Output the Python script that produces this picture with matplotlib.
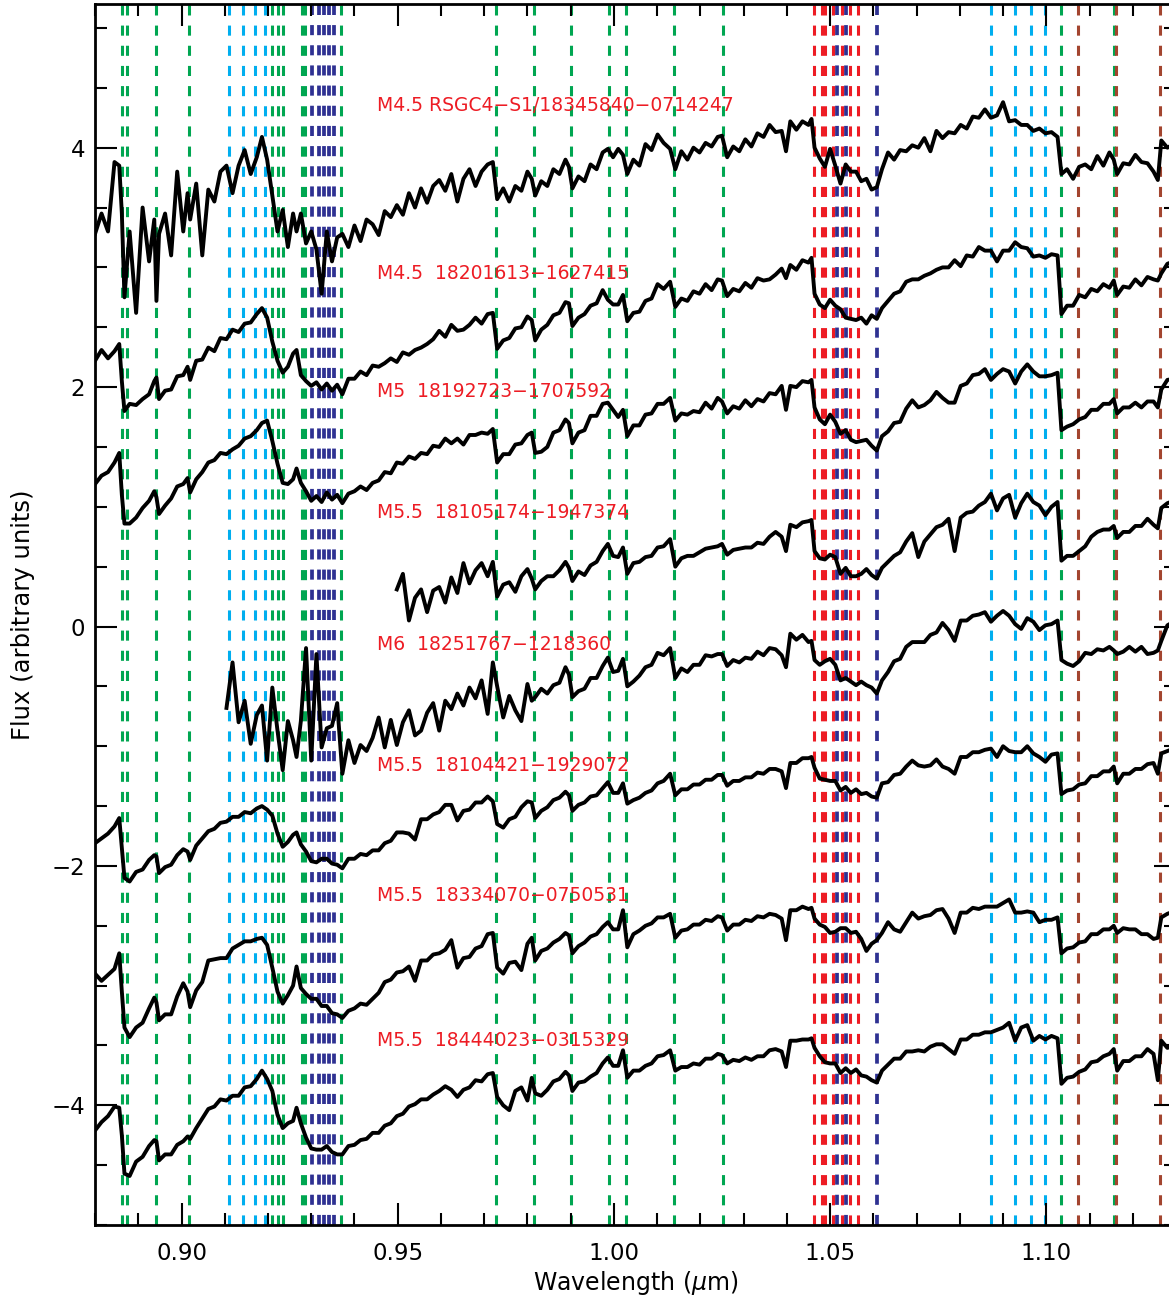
import numpy as np
import matplotlib
matplotlib.use("Agg")
import matplotlib.pyplot as plt
from matplotlib.ticker import MultipleLocator, FormatStrFormatter

# ---------------------------------------------------------------
# Common wavelength sampling (micron) for all eight spectra
# ---------------------------------------------------------------
WAVE = [0.8800, 0.8815, 0.8830, 0.8845, 0.8856, 0.8862, 0.8868, 0.8880, 0.8895, 0.8910,
        0.8925, 0.8937, 0.8942, 0.8948, 0.8962, 0.8976, 0.8990, 0.9004, 0.9014, 0.9020,
        0.9034, 0.9048, 0.9062, 0.9076, 0.9090, 0.9104, 0.9118, 0.9132, 0.9146, 0.9160,
        0.9174, 0.9186, 0.9198, 0.9210, 0.9222, 0.9234, 0.9246, 0.9258, 0.9266, 0.9276,
        0.9288, 0.9300, 0.9312, 0.9324, 0.9336, 0.9348, 0.9360, 0.9372, 0.9386, 0.9400,
        0.9414, 0.9428, 0.9442, 0.9456, 0.9470, 0.9484, 0.9498, 0.9512, 0.9526, 0.9540,
        0.9554, 0.9568, 0.9582, 0.9596, 0.9610, 0.9624, 0.9638, 0.9652, 0.9666, 0.9680,
        0.9694, 0.9708, 0.9720, 0.9730, 0.9744, 0.9758, 0.9772, 0.9786, 0.9800, 0.9810,
        0.9818, 0.9832, 0.9846, 0.9860, 0.9874, 0.9888, 0.9896, 0.9904, 0.9918, 0.9932,
        0.9946, 0.9960, 0.9974, 0.9986, 0.9998, 1.0010, 1.0021, 1.0031, 1.0045, 1.0059,
        1.0073, 1.0087, 1.0101, 1.0115, 1.0130, 1.0142, 1.0156, 1.0170, 1.0184, 1.0198,
        1.0212, 1.0226, 1.0240, 1.0250, 1.0262, 1.0276, 1.0290, 1.0304, 1.0318, 1.0332,
        1.0346, 1.0360, 1.0374, 1.0388, 1.0398, 1.0408, 1.0422, 1.0436, 1.0450, 1.0457,
        1.0464, 1.0476, 1.0488, 1.0500, 1.0512, 1.0524, 1.0536, 1.0548, 1.0560, 1.0572,
        1.0584, 1.0596, 1.0608, 1.0620, 1.0634, 1.0648, 1.0662, 1.0676, 1.0690, 1.0704,
        1.0718, 1.0732, 1.0746, 1.0760, 1.0774, 1.0788, 1.0802, 1.0816, 1.0830, 1.0844,
        1.0858, 1.0872, 1.0886, 1.0900, 1.0914, 1.0928, 1.0942, 1.0956, 1.0970, 1.0984,
        1.0998, 1.1012, 1.1026, 1.1035, 1.1048, 1.1062, 1.1076, 1.1090, 1.1104, 1.1118,
        1.1132, 1.1146, 1.1156, 1.1164, 1.1178, 1.1192, 1.1206, 1.1220, 1.1234, 1.1248,
        1.1258, 1.1266, 1.1280, 1.1295]

# offset fluxes, top to bottom
FLUX_1 = [3.28, 3.45, 3.30, 3.88, 3.85, 3.45, 2.75, 3.30, 2.62, 3.50,
          3.05, 3.40, 2.72, 3.28, 3.45, 3.10, 3.80, 3.30, 3.62, 3.40,
          3.70, 3.10, 3.65, 3.55, 3.80, 3.85, 3.62, 3.85, 3.98, 3.78,
          3.92, 4.09, 3.90, 3.60, 3.30, 3.48, 3.17, 3.45, 3.30, 3.45,
          3.20, 3.30, 3.15, 2.78, 3.30, 3.05, 3.25, 3.28, 3.17, 3.35,
          3.22, 3.40, 3.36, 3.27, 3.47, 3.42, 3.52, 3.44, 3.62, 3.50,
          3.66, 3.54, 3.68, 3.73, 3.64, 3.78, 3.55, 3.74, 3.82, 3.68,
          3.80, 3.86, 3.88, 3.57, 3.66, 3.55, 3.68, 3.64, 3.80, 3.74,
          3.60, 3.72, 3.68, 3.82, 3.78, 3.90, 3.84, 3.66, 3.76, 3.72,
          3.86, 3.82, 3.96, 3.99, 3.92, 3.99, 3.94, 3.78, 3.90, 3.85,
          4.03, 3.98, 4.11, 4.04, 3.99, 3.82, 3.97, 3.90, 4.00, 3.96,
          4.04, 4.01, 4.09, 4.10, 3.92, 4.01, 3.97, 4.07, 4.01, 4.12,
          4.09, 4.19, 4.13, 4.14, 3.97, 4.22, 4.15, 4.22, 4.19, 4.24,
          4.00, 3.91, 3.84, 3.99, 3.85, 3.70, 3.86, 3.80, 3.80, 3.72,
          3.74, 3.65, 3.67, 3.82, 3.96, 3.90, 3.98, 3.97, 4.02, 4.00,
          4.08, 3.97, 4.14, 4.08, 4.13, 4.12, 4.19, 4.16, 4.26, 4.25,
          4.32, 4.25, 4.27, 4.38, 4.22, 4.23, 4.19, 4.19, 4.14, 4.16,
          4.12, 4.13, 4.09, 3.78, 3.82, 3.74, 3.84, 3.86, 3.82, 3.93,
          3.85, 3.96, 3.90, 3.78, 3.87, 3.86, 3.94, 3.88, 3.87, 3.80,
          3.73, 4.06, 4.00, 4.03]

FLUX_2 = [2.22, 2.31, 2.24, 2.30, 2.36, 2.05, 1.80, 1.86, 1.85, 1.90,
          1.94, 2.05, 2.08, 1.90, 1.97, 1.98, 2.09, 2.10, 2.17, 2.06,
          2.22, 2.23, 2.33, 2.30, 2.41, 2.40, 2.48, 2.46, 2.53, 2.54,
          2.61, 2.66, 2.58, 2.38, 2.22, 2.12, 2.17, 2.28, 2.31, 2.10,
          2.05, 2.01, 2.04, 1.98, 2.03, 1.97, 2.02, 1.94, 2.07, 2.07,
          2.13, 2.10, 2.18, 2.17, 2.20, 2.24, 2.21, 2.29, 2.27, 2.31,
          2.33, 2.36, 2.40, 2.47, 2.42, 2.52, 2.47, 2.48, 2.52, 2.58,
          2.53, 2.61, 2.62, 2.32, 2.39, 2.41, 2.49, 2.50, 2.59, 2.56,
          2.39, 2.48, 2.52, 2.60, 2.62, 2.71, 2.70, 2.51, 2.58, 2.61,
          2.68, 2.70, 2.81, 2.73, 2.69, 2.69, 2.77, 2.55, 2.62, 2.63,
          2.72, 2.74, 2.86, 2.82, 2.88, 2.67, 2.74, 2.72, 2.80, 2.78,
          2.86, 2.81, 2.90, 2.89, 2.76, 2.82, 2.80, 2.87, 2.83, 2.91,
          2.89, 2.90, 2.94, 2.99, 2.91, 3.02, 2.98, 3.06, 3.04, 3.08,
          2.78, 2.69, 2.66, 2.73, 2.68, 2.65, 2.58, 2.57, 2.56, 2.58,
          2.53, 2.60, 2.57, 2.66, 2.72, 2.78, 2.80, 2.88, 2.90, 2.90,
          2.93, 2.95, 2.98, 3.00, 3.00, 3.06, 3.01, 3.10, 3.09, 3.17,
          3.14, 3.14, 3.05, 3.14, 3.14, 3.21, 3.17, 3.16, 3.09, 3.10,
          3.08, 3.11, 3.10, 2.61, 2.68, 2.68, 2.77, 2.75, 2.82, 2.80,
          2.86, 2.83, 2.89, 2.77, 2.84, 2.83, 2.90, 2.85, 2.92, 2.90,
          2.89, 2.95, 3.03, 3.05]

FLUX_3 = [1.19, 1.26, 1.29, 1.37, 1.45, 1.10, 0.86, 0.86, 0.91, 0.99,
          1.05, 1.13, 1.08, 0.94, 1.01, 1.07, 1.17, 1.19, 1.24, 1.12,
          1.23, 1.29, 1.37, 1.39, 1.45, 1.44, 1.48, 1.51, 1.57, 1.59,
          1.64, 1.70, 1.72, 1.55, 1.36, 1.20, 1.19, 1.23, 1.32, 1.20,
          1.13, 1.05, 1.09, 1.04, 1.12, 1.06, 1.10, 1.03, 1.11, 1.13,
          1.17, 1.14, 1.20, 1.22, 1.29, 1.28, 1.37, 1.36, 1.42, 1.40,
          1.45, 1.44, 1.51, 1.50, 1.57, 1.53, 1.57, 1.52, 1.60, 1.60,
          1.62, 1.61, 1.65, 1.37, 1.44, 1.44, 1.52, 1.53, 1.60, 1.62,
          1.45, 1.46, 1.50, 1.62, 1.64, 1.73, 1.70, 1.53, 1.62, 1.64,
          1.76, 1.76, 1.86, 1.87, 1.81, 1.75, 1.81, 1.59, 1.68, 1.68,
          1.77, 1.78, 1.86, 1.86, 1.91, 1.72, 1.78, 1.77, 1.80, 1.79,
          1.87, 1.82, 1.91, 1.88, 1.78, 1.84, 1.82, 1.89, 1.84, 1.90,
          1.88, 1.95, 1.94, 2.01, 1.81, 2.01, 2.00, 2.05, 2.04, 2.06,
          1.83, 1.73, 1.69, 1.77, 1.71, 1.61, 1.64, 1.56, 1.54, 1.55,
          1.56, 1.51, 1.47, 1.59, 1.63, 1.70, 1.71, 1.82, 1.89, 1.83,
          1.85, 1.89, 1.96, 1.91, 1.87, 1.87, 2.01, 2.03, 2.10, 2.11,
          2.15, 2.06, 2.11, 2.15, 2.13, 2.03, 2.13, 2.19, 2.13, 2.09,
          2.09, 2.10, 2.12, 1.64, 1.67, 1.69, 1.73, 1.75, 1.81, 1.81,
          1.86, 1.86, 1.90, 1.78, 1.83, 1.83, 1.87, 1.83, 1.88, 1.88,
          1.83, 1.98, 2.06, 2.07]

# this spectrum only starts at 0.95 micron
FLUX_4 = [None] * 56 + [
          0.31, 0.44, 0.05, 0.24,
          0.31, 0.12, 0.30, 0.33, 0.20, 0.41, 0.28, 0.53, 0.36, 0.47,
          0.53, 0.42, 0.54, 0.25, 0.35, 0.37, 0.29, 0.42, 0.48, 0.40,
          0.31, 0.38, 0.42, 0.42, 0.47, 0.54, 0.49, 0.38, 0.46, 0.43,
          0.51, 0.54, 0.63, 0.69, 0.59, 0.58, 0.66, 0.44, 0.53, 0.54,
          0.58, 0.59, 0.66, 0.67, 0.73, 0.50, 0.57, 0.59, 0.59, 0.62,
          0.65, 0.66, 0.67, 0.69, 0.60, 0.64, 0.65, 0.66, 0.66, 0.70,
          0.69, 0.75, 0.79, 0.75, 0.63, 0.85, 0.83, 0.87, 0.88, 0.89,
          0.63, 0.57, 0.56, 0.60, 0.58, 0.44, 0.49, 0.42, 0.42, 0.44,
          0.48, 0.43, 0.40, 0.49, 0.54, 0.59, 0.62, 0.71, 0.78, 0.58,
          0.71, 0.77, 0.83, 0.85, 0.90, 0.63, 0.91, 0.95, 0.96, 1.01,
          1.04, 1.11, 0.97, 1.07, 1.10, 0.91, 1.03, 1.11, 1.04, 1.01,
          0.93, 1.00, 1.04, 0.55, 0.59, 0.59, 0.63, 0.67, 0.75, 0.79,
          0.81, 0.81, 0.84, 0.74, 0.79, 0.79, 0.84, 0.84, 0.90, 0.85,
          0.82, 0.99, 1.03, 1.05]

# this spectrum only starts at 0.91 micron
FLUX_5 = [None] * 25 + [
          -0.68, -0.30, -0.80, -0.62, -0.98,
          -0.74, -0.66, -1.12, -0.51, -0.87, -1.20, -0.79, -0.95, -1.09, -0.79,
          -0.18, -1.12, -0.23, -1.01, -0.85, -0.83, -0.64, -1.23, -0.95, -1.14,
          -0.99, -1.04, -0.93, -0.76, -1.01, -0.78, -0.99, -0.80, -0.70, -0.91,
          -0.87, -0.72, -0.64, -0.87, -0.62, -0.69, -0.56, -0.66, -0.51, -0.60,
          -0.45, -0.73, -0.30, -0.50, -0.76, -0.58, -0.70, -0.79, -0.48, -0.62,
          -0.59, -0.52, -0.56, -0.49, -0.47, -0.34, -0.40, -0.59, -0.54, -0.52,
          -0.43, -0.43, -0.33, -0.26, -0.38, -0.37, -0.27, -0.50, -0.46, -0.41,
          -0.34, -0.32, -0.22, -0.24, -0.18, -0.43, -0.35, -0.38, -0.32, -0.32,
          -0.24, -0.25, -0.23, -0.23, -0.33, -0.28, -0.30, -0.26, -0.27, -0.21,
          -0.24, -0.18, -0.19, -0.24, -0.34, -0.06, -0.11, -0.07, -0.13, -0.12,
          -0.28, -0.32, -0.29, -0.27, -0.32, -0.45, -0.43, -0.46, -0.49, -0.46,
          -0.49, -0.51, -0.56, -0.45, -0.38, -0.29, -0.27, -0.17, -0.13, -0.13,
          -0.13, -0.07, -0.05, 0.03, -0.03, -0.12, 0.05, 0.05, 0.09, 0.10,
          0.12, 0.04, 0.09, 0.13, 0.09, 0.02, -0.02, 0.07, 0.04, -0.03,
          0.01, 0.02, 0.05, -0.28, -0.31, -0.33, -0.29, -0.22, -0.23, -0.19,
          -0.20, -0.17, -0.20, -0.23, -0.21, -0.17, -0.21, -0.17, -0.23, -0.22,
          -0.20, -0.12, 0.01, 0.04]

FLUX_6 = [-1.81, -1.77, -1.73, -1.67, -1.60, -1.85, -2.10, -2.13, -2.05, -2.03,
          -1.95, -1.91, -1.92, -2.06, -2.01, -1.99, -1.91, -1.86, -1.88, -1.95,
          -1.83, -1.77, -1.71, -1.69, -1.64, -1.63, -1.59, -1.59, -1.55, -1.56,
          -1.52, -1.50, -1.53, -1.58, -1.73, -1.84, -1.80, -1.74, -1.72, -1.82,
          -1.88, -1.96, -1.97, -1.94, -1.94, -1.98, -1.99, -2.02, -1.94, -1.94,
          -1.90, -1.91, -1.87, -1.87, -1.81, -1.79, -1.72, -1.72, -1.73, -1.78,
          -1.61, -1.61, -1.57, -1.55, -1.49, -1.49, -1.62, -1.54, -1.53, -1.47,
          -1.47, -1.42, -1.46, -1.65, -1.68, -1.61, -1.59, -1.51, -1.46, -1.47,
          -1.60, -1.54, -1.51, -1.45, -1.43, -1.38, -1.41, -1.54, -1.49, -1.47,
          -1.42, -1.41, -1.35, -1.30, -1.39, -1.39, -1.31, -1.48, -1.45, -1.43,
          -1.39, -1.37, -1.31, -1.29, -1.23, -1.41, -1.36, -1.36, -1.32, -1.32,
          -1.28, -1.28, -1.24, -1.24, -1.33, -1.29, -1.29, -1.26, -1.26, -1.22,
          -1.23, -1.19, -1.19, -1.21, -1.35, -1.14, -1.14, -1.10, -1.10, -1.09,
          -1.18, -1.27, -1.28, -1.29, -1.29, -1.37, -1.34, -1.39, -1.36, -1.40,
          -1.39, -1.42, -1.43, -1.31, -1.30, -1.24, -1.23, -1.17, -1.12, -1.16,
          -1.17, -1.16, -1.11, -1.17, -1.19, -1.23, -1.09, -1.09, -1.05, -1.05,
          -1.03, -1.02, -1.09, -1.00, -1.04, -1.05, -1.05, -1.00, -1.06, -1.09,
          -1.13, -1.07, -1.06, -1.40, -1.37, -1.36, -1.32, -1.31, -1.25, -1.25,
          -1.21, -1.21, -1.17, -1.31, -1.23, -1.23, -1.19, -1.19, -1.15, -1.14,
          -1.23, -1.06, -1.04, -1.02]

FLUX_7 = [-2.90, -2.96, -2.91, -2.86, -2.73, -3.05, -3.35, -3.43, -3.35, -3.31,
          -3.19, -3.10, -3.14, -3.29, -3.24, -3.24, -3.09, -2.98, -3.05, -3.18,
          -3.04, -2.97, -2.79, -2.78, -2.77, -2.77, -2.69, -2.66, -2.63, -2.63,
          -2.61, -2.60, -2.66, -2.85, -3.05, -3.15, -3.08, -3.00, -2.84, -3.02,
          -3.07, -3.11, -3.11, -3.17, -3.17, -3.23, -3.24, -3.27, -3.21, -3.19,
          -3.15, -3.16, -3.11, -3.06, -2.97, -2.95, -2.89, -2.88, -2.84, -2.96,
          -2.79, -2.79, -2.74, -2.73, -2.70, -2.62, -2.85, -2.77, -2.76, -2.69,
          -2.67, -2.57, -2.56, -2.85, -2.90, -2.81, -2.80, -2.87, -2.65, -2.60,
          -2.79, -2.71, -2.69, -2.64, -2.61, -2.56, -2.58, -2.73, -2.67, -2.64,
          -2.59, -2.57, -2.51, -2.47, -2.53, -2.53, -2.37, -2.68, -2.57, -2.54,
          -2.50, -2.48, -2.43, -2.43, -2.40, -2.60, -2.54, -2.53, -2.49, -2.49,
          -2.45, -2.46, -2.42, -2.43, -2.54, -2.49, -2.49, -2.45, -2.46, -2.42,
          -2.43, -2.40, -2.41, -2.44, -2.62, -2.37, -2.37, -2.34, -2.36, -2.35,
          -2.44, -2.49, -2.51, -2.56, -2.55, -2.52, -2.52, -2.56, -2.55, -2.61,
          -2.71, -2.65, -2.62, -2.56, -2.47, -2.53, -2.55, -2.47, -2.39, -2.44,
          -2.42, -2.41, -2.37, -2.36, -2.44, -2.56, -2.39, -2.39, -2.35, -2.36,
          -2.34, -2.34, -2.34, -2.31, -2.28, -2.39, -2.39, -2.38, -2.39, -2.47,
          -2.45, -2.45, -2.43, -2.73, -2.69, -2.68, -2.64, -2.63, -2.57, -2.57,
          -2.53, -2.53, -2.50, -2.56, -2.52, -2.53, -2.53, -2.57, -2.57, -2.61,
          -2.60, -2.43, -2.40, -2.38]

FLUX_8 = [-4.21, -4.14, -4.09, -4.01, -4.02, -4.25, -4.57, -4.59, -4.47, -4.43,
          -4.34, -4.29, -4.30, -4.46, -4.41, -4.41, -4.33, -4.30, -4.26, -4.28,
          -4.19, -4.11, -4.03, -4.01, -3.95, -3.96, -3.92, -3.92, -3.85, -3.84,
          -3.78, -3.71, -3.78, -3.88, -4.08, -4.19, -4.15, -4.13, -4.02, -4.15,
          -4.27, -4.36, -4.37, -4.37, -4.34, -4.39, -4.41, -4.41, -4.34, -4.33,
          -4.29, -4.28, -4.23, -4.23, -4.17, -4.15, -4.09, -4.07, -4.01, -3.99,
          -3.95, -3.95, -3.91, -3.88, -3.84, -3.87, -3.93, -3.87, -3.85, -3.79,
          -3.80, -3.74, -3.73, -3.93, -4.00, -4.04, -3.88, -3.85, -3.96, -3.77,
          -3.90, -3.92, -3.87, -3.80, -3.78, -3.72, -3.75, -3.88, -3.81, -3.80,
          -3.76, -3.73, -3.65, -3.60, -3.67, -3.67, -3.54, -3.77, -3.71, -3.71,
          -3.67, -3.65, -3.59, -3.58, -3.54, -3.71, -3.68, -3.68, -3.65, -3.66,
          -3.61, -3.61, -3.57, -3.58, -3.65, -3.62, -3.63, -3.60, -3.62, -3.59,
          -3.59, -3.54, -3.53, -3.55, -3.68, -3.46, -3.46, -3.45, -3.45, -3.44,
          -3.52, -3.59, -3.64, -3.65, -3.65, -3.73, -3.69, -3.73, -3.70, -3.75,
          -3.76, -3.79, -3.81, -3.71, -3.66, -3.61, -3.61, -3.55, -3.55, -3.54,
          -3.55, -3.51, -3.49, -3.49, -3.53, -3.57, -3.45, -3.45, -3.41, -3.41,
          -3.39, -3.39, -3.37, -3.35, -3.31, -3.46, -3.35, -3.33, -3.46, -3.42,
          -3.45, -3.42, -3.44, -3.82, -3.77, -3.76, -3.72, -3.70, -3.64, -3.63,
          -3.59, -3.57, -3.53, -3.71, -3.63, -3.63, -3.59, -3.59, -3.53, -3.57,
          -3.79, -3.46, -3.52, -3.50]

# star names, drawn just above each spectrum
LABELS = ["M4.5 RSGC4\u2212S1/18345840\u22120714247",
          "M4.5  18201613\u22121627415",
          "M5  18192723\u22121707592",
          "M5.5  18105174\u22121947374",
          "M6  18251767\u22121218360",
          "M5.5  18104421\u22121929072",
          "M5.5  18334070\u22120750531",
          "M5.5  18444023\u22120315329"]
LABEL_WAVE = 0.9451
LABEL_FLUX = [4.35, 2.95, 1.96, 0.95, -0.15, -1.16, -2.25, -3.46]

# line identifications (micron)
GREEN_LINES = [0.8863, 0.8873, 0.8940, 0.9018, 0.9210, 0.9222, 0.9234, 0.9278, 0.9286,
               0.9368, 0.9728, 0.9816, 0.9901, 0.9988, 1.0027, 1.0139, 1.0253, 1.1034,
               1.1156]
CYAN_LINES = [0.9109, 0.9143, 0.9171, 0.9194, 1.0873, 1.0928, 1.0964, 1.0998]
NAVY_LINES = [0.9301, 0.9317, 0.9329, 0.9341, 0.9353, 1.0517, 1.0537, 1.0609]
RED_LINES = [1.0462, 1.0481, 1.0489, 1.0506, 1.0528, 1.0546, 1.0564]
BROWN_LINES = [1.1073, 1.1161, 1.1263]

GREEN = "#00A651"
CYAN = "#00AEEF"
NAVY = "#2E3192"
RED = "#ED1C24"
BROWN = "#A3452F"

spectra = [FLUX_1, FLUX_2, FLUX_3, FLUX_4, FLUX_5, FLUX_6, FLUX_7, FLUX_8]

fig = plt.figure(figsize=(11.69, 13.02), dpi=100)
ax = fig.add_axes([0.0813, 0.0591, 0.9247, 0.9378])

# dashed markers for the atomic / molecular features
for color, lines in [(GREEN, GREEN_LINES), (CYAN, CYAN_LINES), (NAVY, NAVY_LINES),
                     (RED, RED_LINES), (BROWN, BROWN_LINES)]:
    lw = 2.7 if color == NAVY else 2.2
    for w in lines:
        ax.axvline(w, color=color, lw=lw, dashes=(3.3 * 2.2 / lw, 3.3 * 2.2 / lw), zorder=1)

wave = np.array(WAVE)
for flux in spectra:
    ax.plot(wave, np.array(flux, dtype=float), color="black", lw=2.8, zorder=3)

for txt, f in zip(LABELS, LABEL_FLUX):
    ax.text(LABEL_WAVE, f, txt, color=RED, fontsize=13.5, ha="left", va="center", zorder=4)

ax.set_xlim(0.88, 1.13)
ax.set_ylim(-5.0, 5.2)
ax.xaxis.set_major_locator(MultipleLocator(0.05))
ax.xaxis.set_minor_locator(MultipleLocator(0.01))
ax.xaxis.set_major_formatter(FormatStrFormatter("%.2f"))
ax.yaxis.set_major_locator(MultipleLocator(2))
ax.yaxis.set_minor_locator(MultipleLocator(0.5))

ax.tick_params(which="both", direction="in", top=True, right=True, width=1.5)
ax.tick_params(which="major", length=16, labelsize=16.5)
ax.tick_params(which="minor", length=8.5)
ax.tick_params(axis="x", pad=12)
ax.tick_params(axis="y", pad=7)
for s in ax.spines.values():
    s.set_linewidth(2)

ax.set_xlabel(r"Wavelength ($\mu$m)", fontsize=17, labelpad=3)
ax.set_ylabel("Flux (arbitrary units)", fontsize=17.5, labelpad=12)

fig.savefig("out.png", dpi=100)
